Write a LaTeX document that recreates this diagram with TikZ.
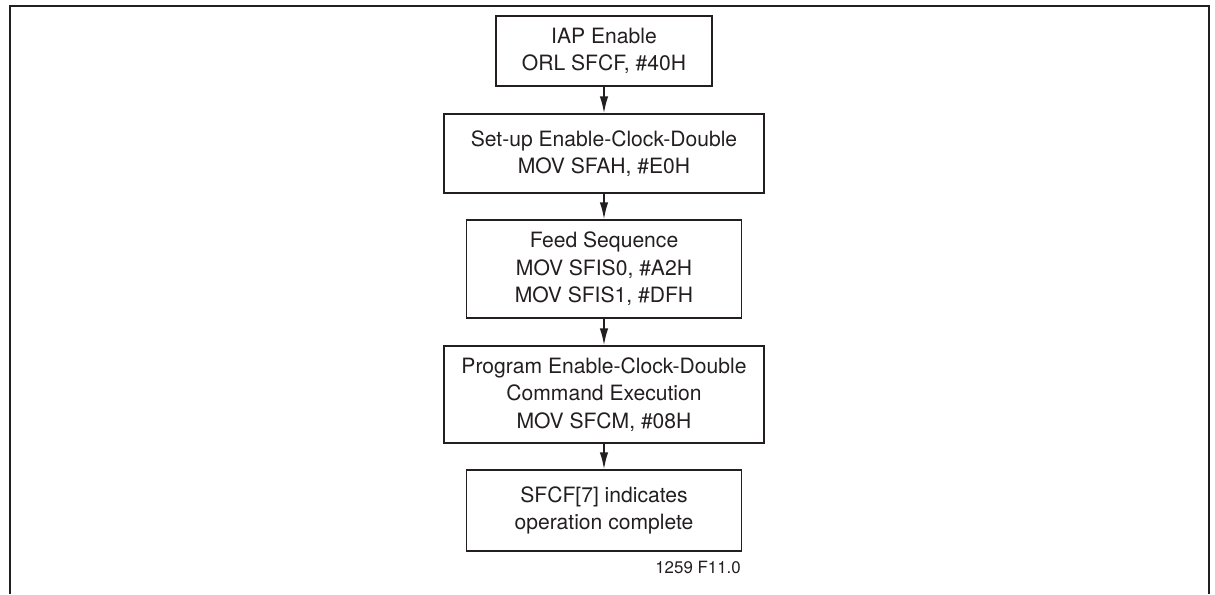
\documentclass[tikz,border=0pt]{standalone}
\usepackage{fontspec}
\setmainfont{TeX Gyre Heros}
\usetikzlibrary{
    arrows.meta,
    positioning
}
\definecolor{inkgray}{HTML}{231F20}

\tikzset{
    stepbox/.style={draw=inkgray, line width=1.1pt, align=center,
        text=inkgray, inner sep=0pt,
        font=\fontsize{15}{19.5}\selectfont},
    flow/.style={draw=inkgray, line width=1.1pt,
        -{Latex[length=12pt,width=6pt]}}
}

\begin{document}
\begin{tikzpicture}[x=0.025cm, y=-0.025cm]
    \useasboundingbox (0, 0) rectangle (1215, 594);
    % outer frame, open at the bottom
    \draw[inkgray, line width=1.6pt] (10, 594) -- (10, 6) -- (1209, 6) -- (1209, 594);

    \node[stepbox, minimum width=5.4cm, minimum height=1.75cm] (iap) at (604, 51)
        {IAP Enable\\ORL SFCF, \#40H};
    \node[stepbox, minimum width=8cm, minimum height=1.975cm] (setup) at (604, 153.5)
        {Set-up Enable-Clock-Double\\MOV SFAH, \#E0H};
    \node[stepbox, minimum width=6.875cm, minimum height=2.45cm] (feed) at (604, 269)
        {Feed Sequence\\MOV SFIS0, \#A2H\\MOV SFIS1, \#DFH};
    \node[stepbox, minimum width=8cm, minimum height=2.425cm] (prog) at (604, 394.5)
        {Program Enable-Clock-Double\\Command Execution\\MOV SFCM, \#08H};
    \node[stepbox, minimum width=6.875cm, minimum height=2.025cm] (done) at (604, 510.5)
        {SFCF[7] indicates\\operation complete};

    \draw[flow] (iap) -- (setup);
    \draw[flow] (setup) -- (feed);
    \draw[flow] (feed) -- (prog);
    \draw[flow] (prog) -- (done);

    \node[anchor=east, inner sep=0pt, text=inkgray,
        font=\fontsize{12}{14}\selectfont] (figid) at (741, 567) {1259 F11.0};
\end{tikzpicture}
\end{document}
